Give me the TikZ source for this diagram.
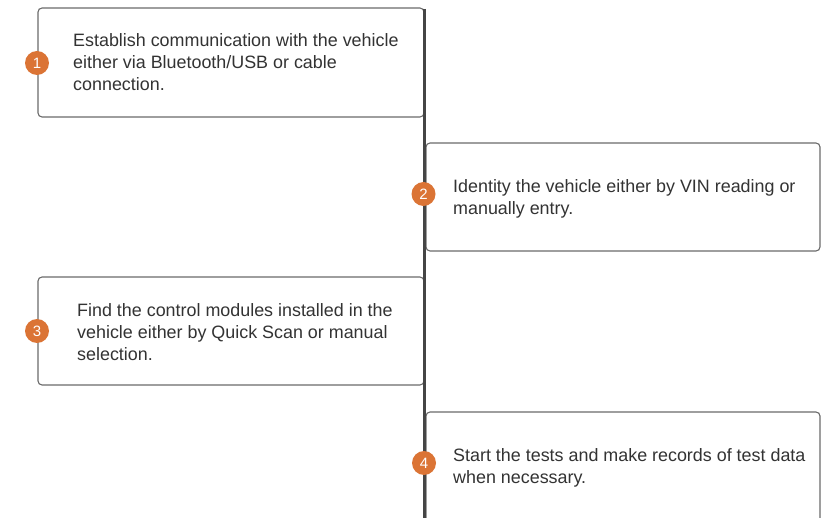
\documentclass[tikz,border=0pt]{standalone}
\usepackage{fontspec}
\setmainfont{Liberation Sans}
\definecolor{boxline}{HTML}{6A6A6A}
\definecolor{axisline}{HTML}{454545}
\definecolor{badge}{HTML}{DB7435}
\definecolor{txt}{HTML}{333333}
\begin{document}
\begin{tikzpicture}[x=1pt,y=-1pt,
  stepbox/.style={draw=boxline,line width=1.1pt,rounded corners=4pt,fill=white},
  steptext/.style={anchor=north west,inner sep=0pt,align=left,text=txt,
    font=\fontsize{17.9}{22.3}\selectfont},
  badgenode/.style={circle,fill=badge,minimum size=24pt,inner sep=0pt,text=white,
    font=\fontsize{15}{15}\selectfont}]
\useasboundingbox (0,0) rectangle (833,518);
\clip (0,0) rectangle (833,518);
% boxes
\draw[stepbox] (38,8) rectangle (424,117);
\draw[stepbox] (426,143) rectangle (820,251);
\draw[stepbox] (38,277) rectangle (424,385);
\draw[stepbox] (426,412) rectangle (820,540);
% texts
\node[steptext] (t1) at (73,32) {\rule{0pt}{14pt}Establish communication with the vehicle\\either via Bluetooth/USB or cable\\connection.};
\node[steptext] (t2) at (453,178) {\rule{0pt}{14pt}Identity the vehicle either by VIN reading or\\manually entry.};
\node[steptext] (t3) at (77,302) {\rule{0pt}{14pt}Find the control modules installed in the\\vehicle either by Quick Scan or manual\\selection.};
\node[steptext] (t4) at (453,447) {\rule{0pt}{14pt}Start the tests and make records of test data\\when necessary.};
% axis
\coordinate (atop) at (424.5,9);
\coordinate (abot) at (424.5,530);
\draw[axisline,line width=3pt] (atop) -- (abot);
% badges
\node[badgenode] (b1) at (37,63) {1};
\node[badgenode] (b2) at (423.5,194) {2};
\node[badgenode] (b3) at (37,331) {3};
\node[badgenode] (b4) at (424,463) {4};
\end{tikzpicture}
\end{document}
